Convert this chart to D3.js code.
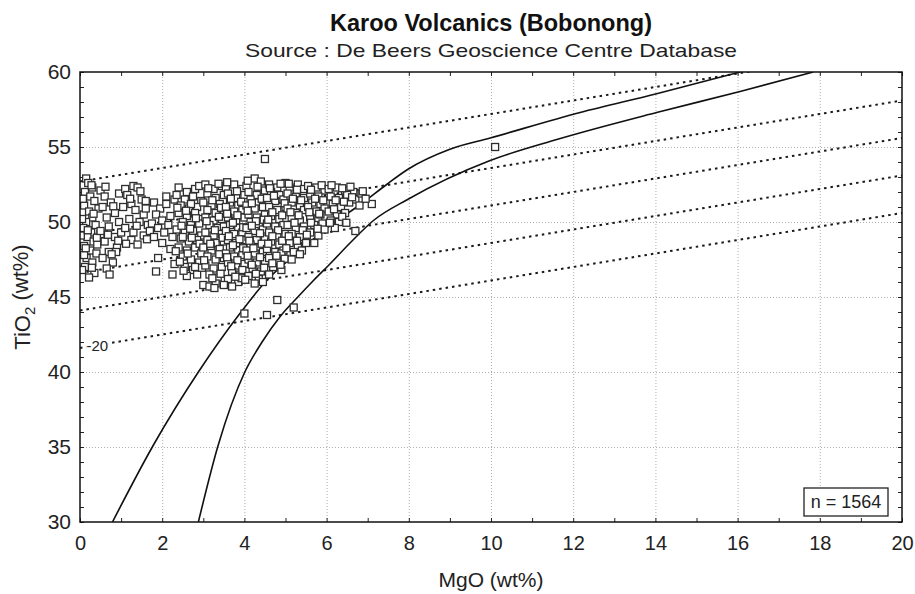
<!DOCTYPE html>
<html>
<head>
	<title>Karoo Volcanics (Bobonong)</title>
	<script src="https://cdn.jsdelivr.net/npm/d3@7"></script>
</head>
<style type="text/css">
	body { margin:0; background:#fff; }
	svg { display:block; font-family:"Liberation Sans", Arial, sans-serif; }
	.grid line { stroke:#9a9a9a; stroke-dasharray:1,2; stroke-width:0.8; }
	.grid path, .minor path, .labels path { display:none; }
	.minor line { stroke:#222; stroke-width:1; }
	.labels text { fill:#222; }
</style>
<body>
</body>
</html>
<script type="text/javascript">
	// tick values
	var xTicks = [0,2,4,6,8,10,12,14,16,18,20];
	var yTicks = [30,35,40,45,50,55,60];

	// two solid boundary curves as [MgO, TiO2]
	var curveLeft = [[0.79,30],[1.78,35.1],[2.88,40],[3.89,43.9],[4.54,46.1],[5.27,47.9],[6.08,49.75],[6.89,51.3],[7.46,52.5],[7.97,53.5],[9.0,54.85],[9.98,55.6],[12.17,57.3],[14.03,58.55],[16.06,60]];
	var curveRight = [[2.88,30],[3.36,35.1],[4.01,40],[4.43,42.0],[4.87,43.7],[5.3,45.0],[5.68,46.1],[6.08,47.2],[6.57,48.6],[7.14,50.1],[7.97,51.5],[9.98,54.1],[11.6,55.5],[14.03,57.3],[16.06,58.7],[17.84,60]];

	// dotted guide lines: TiO2 at MgO = 0 and at MgO = 20
	var guideLeft = [41.6,44.1,46.6,49.1,52.7];
	var guideRight = [50.6,53.1,55.6,58.1,61.7];

	// samples [MgO, TiO2]
	var samples = [
		[0.15,52.9],[0.2,52.6],[0.3,52.3],[0.12,52.0],[0.25,51.7],[0.35,51.4],[0.1,51.1],[0.22,50.7],[0.3,50.3],[0.15,50.0],
		[0.38,49.8],[0.08,49.6],[0.27,49.3],[0.18,49.0],[0.33,48.7],[0.1,48.4],[0.25,48.1],[0.4,47.9],[0.16,47.6],[0.3,47.3],
		[0.12,47.0],[0.05,46.8],[0.35,46.6],[0.22,46.3],[0.45,50.9],[0.5,49.2],[0.42,48.5],[0.05,50.2],[0.02,49.1],[0.1,47.8],
		[0.28,52.45],[0.07,51.55],[0.33,50.55],[0.19,49.45],[0.41,48.95],[0.14,48.25],[0.29,46.95],
		[0.5,52.1],[0.6,51.7],[0.75,51.3],[0.55,51.0],[0.85,50.6],[0.65,50.3],[0.95,50.0],[0.7,49.7],[0.5,49.4],[0.85,49.0],
		[0.6,48.7],[0.9,48.3],[0.7,48.0],[0.55,47.6],[0.8,47.3],[0.65,46.9],[0.72,46.5],[0.95,51.9],[1.0,49.3],[0.88,48.0],
		[0.62,52.35],[0.81,51.05],[0.68,49.15],[0.93,48.75],[0.77,47.85],
		[1.1,52.2],[1.3,52.4],[1.4,52.3],[1.15,51.8],[1.5,51.5],[1.25,51.2],[1.6,51.4],[1.05,51.0],[1.35,50.8],[1.55,50.5],
		[1.2,50.2],[1.45,50.0],[1.65,49.8],[1.1,49.6],[1.3,49.3],[1.55,49.1],[1.25,48.8],[1.4,48.5],[1.7,49.4],[1.6,50.9],
		[1.22,51.55],[1.47,52.05],[1.38,49.75],[1.12,48.55],[1.63,48.85],
		[1.8,51.3],[1.95,50.9],[2.1,51.2],[1.85,50.5],[2.0,50.1],[2.2,50.4],[1.75,49.9],[1.9,49.6],[2.15,49.8],[2.05,49.3],
		[1.8,49.0],[2.25,49.0],[2.0,48.6],[2.2,48.2],[1.9,47.6],[2.1,51.7],[2.3,51.5],[1.85,46.7],[2.3,47.2],[2.25,46.5],
		[2.4,52.3],[2.6,52.0],[2.8,52.2],[2.35,51.8],[2.55,51.5],[2.75,51.7],[2.95,51.4],[2.45,51.1],[2.65,50.9],[2.85,51.0],
		[2.4,50.6],[2.6,50.4],[2.8,50.6],[2.98,50.2],[2.5,50.0],[2.7,49.8],[2.9,49.9],[2.35,49.5],[2.55,49.3],[2.75,49.4],
		[2.95,49.1],[2.45,48.9],[2.65,48.7],[2.85,48.8],[2.4,48.3],[2.6,48.1],[2.8,48.3],[2.95,47.9],[2.5,47.7],[2.7,47.5],
		[2.9,47.3],[2.55,47.0],[2.75,46.8],[2.6,46.4],[2.85,46.5],[2.9,52.4],[2.7,51.2],[2.5,49.0],[2.62,47.9],[2.8,47.0],
		[2.37,50.95],[2.58,50.75],[2.82,50.25],[2.47,49.75],[2.68,49.55],[2.91,48.55],[2.33,48.05],[2.72,48.95],[2.52,46.75],[2.97,46.95],[2.43,47.35],
		[3.05,52.5],[3.25,52.2],[3.45,52.4],[3.1,51.9],[3.3,51.6],[3.5,51.8],[3.0,51.3],[3.2,51.1],[3.4,51.2],[3.1,50.8],
		[3.3,50.6],[3.5,50.7],[3.05,50.3],[3.25,50.1],[3.45,50.2],[3.15,49.8],[3.35,49.6],[3.5,49.7],[3.05,49.3],[3.25,49.1],
		[3.45,49.2],[3.1,48.8],[3.3,48.6],[3.5,48.7],[3.0,48.3],[3.2,48.1],[3.4,48.2],[3.1,47.7],[3.3,47.5],[3.5,47.6],
		[3.05,47.1],[3.25,46.9],[3.45,47.0],[3.15,46.5],[3.35,46.3],[3.0,45.8],[3.15,45.7],[3.3,45.9],[3.38,50.35],[3.18,48.4],
		[3.12,52.25],[3.37,52.55],[3.22,51.45],[3.43,50.95],[3.08,50.05],[3.28,49.45],[3.47,48.95],[3.17,48.55],[3.39,47.85],[3.02,47.45],[3.22,46.25],[3.42,46.55],[3.27,45.6],
		[3.55,52.3],[3.75,52.5],[3.95,52.2],[3.6,51.9],[3.8,51.6],[4.0,51.8],[3.65,51.3],[3.85,51.1],[3.55,51.0],[3.75,50.7],
		[3.95,50.8],[3.6,50.3],[3.8,50.1],[4.0,50.3],[3.65,49.8],[3.85,49.6],[3.55,49.4],[3.75,49.2],[3.95,49.3],[3.6,48.8],
		[3.8,48.6],[4.0,48.8],[3.65,48.3],[3.85,48.1],[3.55,47.9],[3.75,47.7],[3.95,47.8],[3.6,47.3],[3.8,47.1],[4.0,47.2],
		[3.7,46.7],[3.9,46.5],[3.6,46.2],[3.85,46.0],[3.7,45.7],[3.95,46.8],[3.5,45.8],[4.0,43.9],
		[3.58,52.65],[3.82,52.05],[3.67,51.55],[3.92,51.35],[3.58,50.55],[3.83,50.45],[3.72,49.95],[3.97,49.65],[3.62,49.05],[3.88,48.85],
		[3.72,48.45],[3.97,48.25],[3.58,47.65],[3.83,47.45],[3.68,47.05],[3.93,46.25],[3.78,46.35],
		[4.05,52.4],[4.25,52.9],[4.4,52.7],[4.1,52.0],[4.3,51.8],[4.5,52.1],[4.15,51.5],[4.35,51.3],[4.05,51.1],[4.25,50.9],
		[4.45,51.0],[4.1,50.5],[4.3,50.3],[4.5,50.5],[4.15,50.0],[4.35,49.8],[4.05,49.6],[4.25,49.4],[4.45,49.5],[4.1,49.0],
		[4.3,48.8],[4.5,48.9],[4.15,48.5],[4.35,48.3],[4.05,48.1],[4.25,47.9],[4.45,48.0],[4.1,47.5],[4.3,47.3],[4.5,47.4],
		[4.2,46.9],[4.4,46.7],[4.1,46.4],[4.35,46.2],[4.25,45.9],[4.5,54.2],[4.55,43.8],[4.45,46.0],
		[4.08,52.75],[4.32,52.35],[4.18,51.25],[4.42,51.55],[4.08,50.75],[4.28,50.05],[4.47,50.15],[4.18,49.75],[4.38,49.25],[4.12,48.75],
		[4.42,48.55],[4.22,48.25],[4.08,47.75],[4.38,47.65],[4.18,47.15],[4.48,46.95],[4.28,46.55],[4.02,46.15],
		[4.6,52.5],[4.8,52.3],[5.0,52.6],[4.65,52.0],[4.85,51.8],[4.55,51.6],[4.75,51.4],[4.95,51.5],[4.6,51.0],[4.8,50.8],
		[5.0,51.0],[4.65,50.4],[4.85,50.2],[4.55,49.9],[4.75,49.7],[4.95,49.8],[4.6,49.3],[4.8,49.1],[5.0,49.2],[4.65,48.7],
		[4.85,48.5],[4.55,48.2],[4.75,48.0],[4.95,48.1],[4.6,47.6],[4.8,47.4],[4.7,47.0],[4.9,46.8],[4.6,46.5],[4.8,44.8],[4.9,47.9],
		[4.62,52.25],[4.88,52.55],[4.72,51.75],[4.98,51.25],[4.68,50.65],[4.92,50.45],[4.58,50.15],[4.82,49.45],[4.68,49.05],[4.92,48.75],
		[4.58,48.55],[4.78,47.75],[4.98,47.55],[4.68,47.25],[4.88,47.15],
		[5.1,52.3],[5.3,52.5],[5.45,52.2],[5.05,51.9],[5.25,51.7],[5.45,51.6],[5.15,51.3],[5.35,51.1],[5.05,50.9],[5.25,50.6],
		[5.45,50.8],[5.15,50.3],[5.35,50.1],[5.05,49.8],[5.25,49.6],[5.45,49.7],[5.15,49.2],[5.35,49.0],[5.1,48.6],[5.3,48.4],
		[5.2,48.0],[5.4,48.1],[5.15,47.5],[5.2,44.3],[5.5,48.6],
		[5.08,52.55],[5.28,52.15],[5.18,51.55],[5.38,51.45],[5.12,50.65],[5.32,50.45],[5.22,49.95],[5.42,49.45],[5.08,49.05],[5.28,48.75],[5.02,48.25],[5.35,47.85],
		[5.55,52.4],[5.75,52.3],[5.95,52.1],[5.6,51.9],[5.8,51.7],[5.65,51.3],[5.85,51.2],[5.55,51.0],[5.75,50.7],[5.95,50.9],
		[5.6,50.3],[5.8,50.2],[5.7,49.8],[5.9,49.9],[5.6,49.3],[5.8,49.1],[5.95,49.5],[5.7,48.6],[5.85,50.5],
		[5.62,52.15],[5.88,52.45],[5.72,51.55],[5.92,51.45],[5.58,50.65],[5.82,50.55],[5.62,49.95],[5.78,49.55],[5.52,49.15],
		[6.05,52.2],[6.25,52.3],[6.45,52.1],[6.65,52.0],[6.1,51.7],[6.3,51.6],[6.5,51.8],[6.7,51.5],[6.15,51.2],[6.35,51.0],
		[6.55,51.3],[6.05,50.7],[6.25,50.5],[6.45,50.6],[6.1,50.1],[6.3,50.0],[6.2,49.6],[6.7,49.4],[6.85,51.9],[7.1,51.2],[6.8,51.1],
		[6.12,52.45],[6.38,52.25],[6.58,52.35],[6.22,51.45],[6.42,51.35],[6.62,51.65],[6.18,50.85],[6.38,50.35],[6.08,49.95],[6.48,49.95],[6.88,52.05],[6.95,51.55],
		[10.1,55.0]
	];
	var sampleCount = "n = 1564";

	var width = 915;
	var height = 594;
	var margin = {left:80, right:13, top:72, bottom:72};
	var w = width - margin.left - margin.right;
	var h = height - margin.top - margin.bottom;

	var svg = d3.select("body").append("svg").attr("width", width).attr("height", height);

	var x = d3.scaleLinear().domain([0,20]).range([0,w]);
	var y = d3.scaleLinear().domain([30,60]).range([h,0]);

	// titles
	svg.append("text").attr("x", margin.left + w/2).attr("y", 31).attr("text-anchor", "middle")
		.style("font-size", "23.5px").style("font-weight", "bold").attr("fill", "#111")
		.text("Karoo Volcanics (Bobonong)");
	svg.append("text").attr("x", margin.left + w/2).attr("y", 57).attr("text-anchor", "middle")
		.style("font-size", "19px").attr("fill", "#222")
		.attr("textLength", 492).attr("lengthAdjust", "spacingAndGlyphs")
		.text("Source : De Beers Geoscience Centre Database");

	var g = svg.append("g").attr("transform", "translate("+ margin.left +","+ margin.top +")");

	g.append("clipPath").attr("id", "plot-clip").append("rect").attr("width", w).attr("height", h);

	// dotted grid
	g.append("g").attr("class", "grid").attr("transform", "translate(0,"+ h +")")
		.call(d3.axisBottom(x).tickValues(xTicks.slice(1, -1)).tickSize(-h).tickFormat(""));
	g.append("g").attr("class", "grid")
		.call(d3.axisLeft(y).tickValues(yTicks.slice(1, -1)).tickSize(-w).tickFormat(""));

	// inward ticks on all four sides
	g.append("g").attr("class", "minor").attr("transform", "translate(0,"+ h +")")
		.call(d3.axisBottom(x).ticks(20).tickSize(-4).tickFormat(""));
	g.append("g").attr("class", "minor")
		.call(d3.axisTop(x).ticks(20).tickSize(-4).tickFormat(""));
	g.append("g").attr("class", "minor")
		.call(d3.axisLeft(y).ticks(30).tickSize(-4).tickFormat(""));
	g.append("g").attr("class", "minor").attr("transform", "translate("+ w +",0)")
		.call(d3.axisRight(y).ticks(30).tickSize(-4).tickFormat(""));

	// tick labels
	g.append("g").attr("class", "labels").attr("transform", "translate(0,"+ h +")")
		.call(d3.axisBottom(x).tickValues(xTicks).tickSize(0).tickPadding(14))
		.selectAll("text").style("font-size", "20px");
	g.append("g").attr("class", "labels")
		.call(d3.axisLeft(y).tickValues(yTicks).tickSize(0).tickPadding(9))
		.selectAll("text").style("font-size", "21px");

	var plot = g.append("g").attr("clip-path", "url(#plot-clip)");

	// dotted guide lines
	plot.selectAll(".guide").data(guideLeft).enter().append("line")
		.attr("class", "guide")
		.attr("x1", x(0)).attr("y1", function(d){return y(d)})
		.attr("x2", x(20)).attr("y2", function(d,i){return y(guideRight[i])})
		.attr("stroke", "#1a1a1a").attr("stroke-width", 2).attr("stroke-dasharray", "2.5,4");

	// "-20" label on the lowest guide line
	var lab = plot.append("g").attr("transform", "translate("+ x(0.42) +","+ y(guideLeft[0] + 0.45*0.42) +")");
	lab.append("rect").attr("x", -11).attr("y", -9).attr("width", 22).attr("height", 18).attr("fill", "#fff");
	lab.append("text").attr("text-anchor", "middle").attr("dy", "0.36em")
		.style("font-size", "15px").attr("fill", "#222").text("-20");

	// solid curves
	var line = d3.line()
		.x(function(d){return x(d[0])})
		.y(function(d){return y(d[1])})
		.curve(d3.curveMonotoneX);
	plot.selectAll(".curve").data([curveLeft, curveRight]).enter().append("path")
		.attr("class", "curve").attr("d", line)
		.attr("fill", "none").attr("stroke", "#111").attr("stroke-width", 1.6);

	// sample squares
	var s = 7;
	plot.selectAll(".pt").data(samples).enter().append("rect")
		.attr("class", "pt")
		.attr("x", function(d){return x(d[0]) - s/2})
		.attr("y", function(d){return y(d[1]) - s/2})
		.attr("width", s).attr("height", s)
		.attr("fill", "#fff").attr("stroke", "#2e2e2e").attr("stroke-width", 1.3);

	// frame
	g.append("rect").attr("width", w).attr("height", h)
		.attr("fill", "none").attr("stroke", "#111").attr("stroke-width", 1.5);

	// n box
	var nb = g.append("g").attr("transform", "translate("+ (w - 98) +","+ (h - 34) +")");
	nb.append("rect").attr("width", 84).attr("height", 28)
		.attr("fill", "#fff").attr("stroke", "#222").attr("stroke-width", 1.3);
	nb.append("text").attr("x", 42).attr("y", 14).attr("dy", "0.36em").attr("text-anchor", "middle")
		.style("font-size", "18px").attr("fill", "#222").text(sampleCount);

	// axis titles
	svg.append("text").attr("x", margin.left + w/2).attr("y", 587).attr("text-anchor", "middle")
		.style("font-size", "21px").attr("fill", "#222").text("MgO (wt%)");
	var yt = svg.append("text").attr("transform", "translate(30,"+ (margin.top + h/2) +") rotate(-90)")
		.attr("text-anchor", "middle").style("font-size", "22px").attr("fill", "#222");
	yt.append("tspan").text("TiO");
	yt.append("tspan").attr("dy", "0.3em").style("font-size", "15px").text("2");
	yt.append("tspan").attr("dy", "-0.3em").text(" (wt%)");
</script>
